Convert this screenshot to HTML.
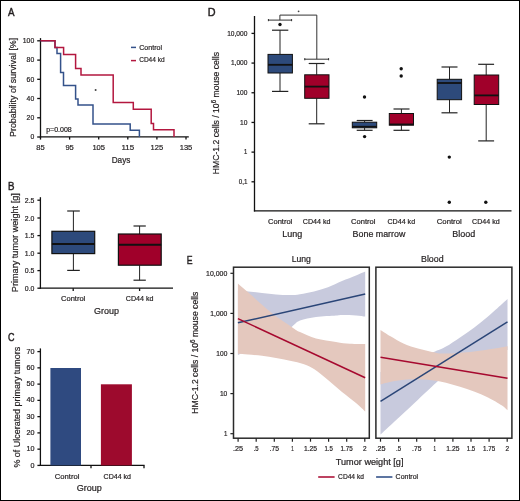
<!DOCTYPE html>
<html><head><meta charset="utf-8"><style>
html,body{margin:0;padding:0;background:#fff;}
svg{display:block;font-family:"Liberation Sans", sans-serif;will-change:transform;}
</style></head><body>
<svg width="520" height="501" viewBox="0 0 520 501">
<rect x="0" y="0" width="520" height="501" fill="#fff"/>
<text x="8.00" y="16.00" font-size="11" textLength="6.50" lengthAdjust="spacingAndGlyphs" fill="#231f20" stroke="#231f20" stroke-width="0.45" >A</text>
<line x1="40.50" y1="38.10" x2="40.50" y2="137.50" stroke="#111111" stroke-width="1.3" />
<line x1="39.90" y1="136.90" x2="188.80" y2="136.90" stroke="#111111" stroke-width="1.3" />
<line x1="37.20" y1="40.80" x2="40.50" y2="40.80" stroke="#111111" stroke-width="1.3" />
<text x="22.80" y="43.10" font-size="7" textLength="11.40" lengthAdjust="spacingAndGlyphs" fill="#231f20" stroke="#231f20" stroke-width="0.2" >100</text>
<line x1="37.20" y1="60.10" x2="40.50" y2="60.10" stroke="#111111" stroke-width="1.3" />
<text x="26.60" y="62.40" font-size="7" textLength="7.60" lengthAdjust="spacingAndGlyphs" fill="#231f20" stroke="#231f20" stroke-width="0.2" >80</text>
<line x1="37.20" y1="79.30" x2="40.50" y2="79.30" stroke="#111111" stroke-width="1.3" />
<text x="26.60" y="81.60" font-size="7" textLength="7.60" lengthAdjust="spacingAndGlyphs" fill="#231f20" stroke="#231f20" stroke-width="0.2" >60</text>
<line x1="37.20" y1="98.50" x2="40.50" y2="98.50" stroke="#111111" stroke-width="1.3" />
<text x="26.60" y="100.80" font-size="7" textLength="7.60" lengthAdjust="spacingAndGlyphs" fill="#231f20" stroke="#231f20" stroke-width="0.2" >40</text>
<line x1="37.20" y1="117.80" x2="40.50" y2="117.80" stroke="#111111" stroke-width="1.3" />
<text x="26.60" y="120.10" font-size="7" textLength="7.60" lengthAdjust="spacingAndGlyphs" fill="#231f20" stroke="#231f20" stroke-width="0.2" >20</text>
<line x1="37.20" y1="137.00" x2="40.50" y2="137.00" stroke="#111111" stroke-width="1.3" />
<text x="30.40" y="139.30" font-size="7" textLength="3.80" lengthAdjust="spacingAndGlyphs" fill="#231f20" stroke="#231f20" stroke-width="0.2" >0</text>
<line x1="40.50" y1="136.90" x2="40.50" y2="139.60" stroke="#111111" stroke-width="1.3" />
<text x="36.30" y="150.00" font-size="7.5" textLength="8.40" lengthAdjust="spacingAndGlyphs" fill="#231f20" stroke="#231f20" stroke-width="0.2" >85</text>
<line x1="69.60" y1="136.90" x2="69.60" y2="139.60" stroke="#111111" stroke-width="1.3" />
<text x="65.40" y="150.00" font-size="7.5" textLength="8.40" lengthAdjust="spacingAndGlyphs" fill="#231f20" stroke="#231f20" stroke-width="0.2" >95</text>
<line x1="98.70" y1="136.90" x2="98.70" y2="139.60" stroke="#111111" stroke-width="1.3" />
<text x="92.40" y="150.00" font-size="7.5" textLength="12.60" lengthAdjust="spacingAndGlyphs" fill="#231f20" stroke="#231f20" stroke-width="0.2" >105</text>
<line x1="127.80" y1="136.90" x2="127.80" y2="139.60" stroke="#111111" stroke-width="1.3" />
<text x="121.50" y="150.00" font-size="7.5" textLength="12.60" lengthAdjust="spacingAndGlyphs" fill="#231f20" stroke="#231f20" stroke-width="0.2" >115</text>
<line x1="156.90" y1="136.90" x2="156.90" y2="139.60" stroke="#111111" stroke-width="1.3" />
<text x="150.60" y="150.00" font-size="7.5" textLength="12.60" lengthAdjust="spacingAndGlyphs" fill="#231f20" stroke="#231f20" stroke-width="0.2" >125</text>
<line x1="186.00" y1="136.90" x2="186.00" y2="139.60" stroke="#111111" stroke-width="1.3" />
<text x="179.70" y="150.00" font-size="7.5" textLength="12.60" lengthAdjust="spacingAndGlyphs" fill="#231f20" stroke="#231f20" stroke-width="0.2" >135</text>
<text x="111.70" y="162.80" font-size="8.8" textLength="18.70" lengthAdjust="spacingAndGlyphs" fill="#231f20" stroke="#231f20" stroke-width="0.2" >Days</text>
<text x="46.20" y="132.00" font-size="6.8" textLength="25.60" lengthAdjust="spacingAndGlyphs" fill="#231f20" stroke="#231f20" stroke-width="0.2" >p=0.008</text>
<text transform="translate(15.75,137.00) rotate(-90)" x="0" y="0" font-size="9.2" textLength="99.25" lengthAdjust="spacingAndGlyphs" fill="#231f20" stroke="#231f20" stroke-width="0.2">Probability of survival [%]</text>
<circle cx="95.60" cy="90.00" r="1.0" fill="#444"/>
<polyline points="40.50,40.80 55.00,40.80 55.00,47.60 57.00,47.60 57.00,53.40 60.60,53.40 60.60,72.60 63.50,72.60 63.50,85.60 75.60,85.60 75.60,99.00 78.00,99.00 78.00,105.00 93.00,105.00 93.00,124.00 130.20,124.00 130.20,130.20 139.40,130.20 139.40,136.90" fill="none" stroke="#34528a" stroke-width="1.5" stroke-linejoin="miter" />
<polyline points="40.50,40.80 55.00,40.80 55.00,47.60 63.60,47.60 63.60,54.40 75.60,54.40 75.60,68.40 81.00,68.40 81.00,75.00 113.20,75.00 113.20,102.60 133.30,102.60 133.30,109.30 151.20,109.30 151.20,123.50 153.50,123.50 153.50,129.80 174.00,129.80 174.00,136.90" fill="none" stroke="#b3173f" stroke-width="1.5" stroke-linejoin="miter" />
<line x1="131.00" y1="47.40" x2="136.00" y2="47.40" stroke="#34528a" stroke-width="1.5" />
<line x1="131.00" y1="60.60" x2="136.00" y2="60.60" stroke="#b3173f" stroke-width="1.5" />
<text x="139.20" y="49.50" font-size="7.6" textLength="22.80" lengthAdjust="spacingAndGlyphs" fill="#231f20" stroke="#231f20" stroke-width="0.2" >Control</text>
<text x="139.20" y="62.00" font-size="7.6" textLength="25.40" lengthAdjust="spacingAndGlyphs" fill="#231f20" stroke="#231f20" stroke-width="0.2" >CD44 kd</text>
<text x="8.00" y="190.00" font-size="11" textLength="6.50" lengthAdjust="spacingAndGlyphs" fill="#231f20" stroke="#231f20" stroke-width="0.45" >B</text>
<line x1="40.40" y1="197.20" x2="40.40" y2="288.80" stroke="#111111" stroke-width="1.3" />
<line x1="39.80" y1="288.20" x2="173.00" y2="288.20" stroke="#111111" stroke-width="1.3" />
<line x1="37.40" y1="200.20" x2="40.40" y2="200.20" stroke="#111111" stroke-width="1.3" />
<text x="24.80" y="202.90" font-size="7" textLength="9.60" lengthAdjust="spacingAndGlyphs" fill="#231f20" stroke="#231f20" stroke-width="0.2" >2.5</text>
<line x1="37.40" y1="218.00" x2="40.40" y2="218.00" stroke="#111111" stroke-width="1.3" />
<text x="24.80" y="220.70" font-size="7" textLength="9.60" lengthAdjust="spacingAndGlyphs" fill="#231f20" stroke="#231f20" stroke-width="0.2" >2.0</text>
<line x1="37.40" y1="235.60" x2="40.40" y2="235.60" stroke="#111111" stroke-width="1.3" />
<text x="24.80" y="238.30" font-size="7" textLength="9.60" lengthAdjust="spacingAndGlyphs" fill="#231f20" stroke="#231f20" stroke-width="0.2" >1.5</text>
<line x1="37.40" y1="253.20" x2="40.40" y2="253.20" stroke="#111111" stroke-width="1.3" />
<text x="24.80" y="255.90" font-size="7" textLength="9.60" lengthAdjust="spacingAndGlyphs" fill="#231f20" stroke="#231f20" stroke-width="0.2" >1.0</text>
<line x1="37.40" y1="270.60" x2="40.40" y2="270.60" stroke="#111111" stroke-width="1.3" />
<text x="24.80" y="273.30" font-size="7" textLength="9.60" lengthAdjust="spacingAndGlyphs" fill="#231f20" stroke="#231f20" stroke-width="0.2" >0.5</text>
<line x1="37.40" y1="288.20" x2="40.40" y2="288.20" stroke="#111111" stroke-width="1.3" />
<text x="24.80" y="290.90" font-size="7" textLength="9.60" lengthAdjust="spacingAndGlyphs" fill="#231f20" stroke="#231f20" stroke-width="0.2" >0.0</text>
<line x1="73.40" y1="211.00" x2="73.40" y2="231.30" stroke="#222" stroke-width="1.0" />
<line x1="73.40" y1="253.60" x2="73.40" y2="270.40" stroke="#222" stroke-width="1.0" />
<line x1="67.20" y1="211.00" x2="79.80" y2="211.00" stroke="#222" stroke-width="1.2" />
<line x1="67.20" y1="270.40" x2="79.80" y2="270.40" stroke="#222" stroke-width="1.2" />
<rect x="51.90" y="231.30" width="42.80" height="22.30" fill="#2d4a7b" stroke="#111" stroke-width="1.2"/>
<line x1="51.90" y1="243.90" x2="94.70" y2="243.90" stroke="#111" stroke-width="2.0" />
<line x1="139.60" y1="226.00" x2="139.60" y2="234.00" stroke="#222" stroke-width="1.0" />
<line x1="139.60" y1="265.20" x2="139.60" y2="280.20" stroke="#222" stroke-width="1.0" />
<line x1="133.50" y1="226.00" x2="145.80" y2="226.00" stroke="#222" stroke-width="1.2" />
<line x1="133.50" y1="280.20" x2="145.80" y2="280.20" stroke="#222" stroke-width="1.2" />
<rect x="118.40" y="234.00" width="42.80" height="31.20" fill="#a0002a" stroke="#111" stroke-width="1.2"/>
<line x1="118.40" y1="244.80" x2="161.20" y2="244.80" stroke="#111" stroke-width="2.0" />
<line x1="73.20" y1="288.20" x2="73.20" y2="291.00" stroke="#111111" stroke-width="1.3" />
<line x1="139.60" y1="288.20" x2="139.60" y2="291.00" stroke="#111111" stroke-width="1.3" />
<text x="61.00" y="300.90" font-size="7.3" textLength="24.30" lengthAdjust="spacingAndGlyphs" fill="#231f20" stroke="#231f20" stroke-width="0.2" >Control</text>
<text x="125.80" y="300.90" font-size="7.3" textLength="27.70" lengthAdjust="spacingAndGlyphs" fill="#231f20" stroke="#231f20" stroke-width="0.2" >CD44 kd</text>
<text x="94.00" y="314.30" font-size="8.5" textLength="24.90" lengthAdjust="spacingAndGlyphs" fill="#231f20" stroke="#231f20" stroke-width="0.2" >Group</text>
<text transform="translate(18.20,292.20) rotate(-90)" x="0" y="0" font-size="8.8" textLength="99.00" lengthAdjust="spacingAndGlyphs" fill="#231f20" stroke="#231f20" stroke-width="0.2">Primary tumor weight [g]</text>
<text x="8.00" y="341.40" font-size="11" textLength="6.50" lengthAdjust="spacingAndGlyphs" fill="#231f20" stroke="#231f20" stroke-width="0.45" >C</text>
<line x1="40.40" y1="348.40" x2="40.40" y2="466.00" stroke="#111111" stroke-width="1.3" />
<line x1="39.80" y1="465.40" x2="144.60" y2="465.40" stroke="#111111" stroke-width="1.3" />
<line x1="37.40" y1="351.60" x2="40.40" y2="351.60" stroke="#111111" stroke-width="1.3" />
<text x="26.40" y="353.70" font-size="7" textLength="8.00" lengthAdjust="spacingAndGlyphs" fill="#231f20" stroke="#231f20" stroke-width="0.2" >70</text>
<line x1="37.40" y1="367.86" x2="40.40" y2="367.86" stroke="#111111" stroke-width="1.3" />
<text x="26.40" y="369.96" font-size="7" textLength="8.00" lengthAdjust="spacingAndGlyphs" fill="#231f20" stroke="#231f20" stroke-width="0.2" >60</text>
<line x1="37.40" y1="384.12" x2="40.40" y2="384.12" stroke="#111111" stroke-width="1.3" />
<text x="26.40" y="386.22" font-size="7" textLength="8.00" lengthAdjust="spacingAndGlyphs" fill="#231f20" stroke="#231f20" stroke-width="0.2" >50</text>
<line x1="37.40" y1="400.38" x2="40.40" y2="400.38" stroke="#111111" stroke-width="1.3" />
<text x="26.40" y="402.48" font-size="7" textLength="8.00" lengthAdjust="spacingAndGlyphs" fill="#231f20" stroke="#231f20" stroke-width="0.2" >40</text>
<line x1="37.40" y1="416.64" x2="40.40" y2="416.64" stroke="#111111" stroke-width="1.3" />
<text x="26.40" y="418.74" font-size="7" textLength="8.00" lengthAdjust="spacingAndGlyphs" fill="#231f20" stroke="#231f20" stroke-width="0.2" >30</text>
<line x1="37.40" y1="432.90" x2="40.40" y2="432.90" stroke="#111111" stroke-width="1.3" />
<text x="26.40" y="435.00" font-size="7" textLength="8.00" lengthAdjust="spacingAndGlyphs" fill="#231f20" stroke="#231f20" stroke-width="0.2" >20</text>
<line x1="37.40" y1="449.16" x2="40.40" y2="449.16" stroke="#111111" stroke-width="1.3" />
<text x="26.40" y="451.26" font-size="7" textLength="8.00" lengthAdjust="spacingAndGlyphs" fill="#231f20" stroke="#231f20" stroke-width="0.2" >10</text>
<line x1="37.40" y1="465.42" x2="40.40" y2="465.42" stroke="#111111" stroke-width="1.3" />
<text x="30.40" y="467.52" font-size="7" textLength="4.00" lengthAdjust="spacingAndGlyphs" fill="#231f20" stroke="#231f20" stroke-width="0.2" >0</text>
<rect x="50.40" y="368.00" width="30.60" height="97.40" fill="#2f4a80" stroke="none" stroke-width="0"/>
<rect x="100.90" y="384.30" width="31.00" height="81.10" fill="#9d0a2d" stroke="none" stroke-width="0"/>
<line x1="91.00" y1="465.40" x2="91.00" y2="468.20" stroke="#111111" stroke-width="1.3" />
<line x1="144.00" y1="465.40" x2="144.00" y2="468.20" stroke="#111111" stroke-width="1.3" />
<text x="54.80" y="478.80" font-size="7.3" textLength="24.60" lengthAdjust="spacingAndGlyphs" fill="#231f20" stroke="#231f20" stroke-width="0.2" >Control</text>
<text x="103.60" y="478.80" font-size="7.3" textLength="27.40" lengthAdjust="spacingAndGlyphs" fill="#231f20" stroke="#231f20" stroke-width="0.2" >CD44 kd</text>
<text x="76.80" y="491.40" font-size="8.5" textLength="25.10" lengthAdjust="spacingAndGlyphs" fill="#231f20" stroke="#231f20" stroke-width="0.2" >Group</text>
<text transform="translate(20.40,467.60) rotate(-90)" x="0" y="0" font-size="9.0" textLength="120.80" lengthAdjust="spacingAndGlyphs" fill="#231f20" stroke="#231f20" stroke-width="0.2">% of Ulcerated primary tumors</text>
<text x="207.70" y="16.00" font-size="11" textLength="7.80" lengthAdjust="spacingAndGlyphs" fill="#231f20" stroke="#231f20" stroke-width="0.45" >D</text>
<line x1="254.50" y1="16.00" x2="254.50" y2="211.50" stroke="#111111" stroke-width="1.3" />
<line x1="253.90" y1="210.90" x2="511.50" y2="210.90" stroke="#111111" stroke-width="1.3" />
<line x1="251.50" y1="33.40" x2="254.50" y2="33.40" stroke="#111111" stroke-width="1.3" />
<text x="227.20" y="35.70" font-size="7" textLength="20.20" lengthAdjust="spacingAndGlyphs" fill="#231f20" stroke="#231f20" stroke-width="0.2" >10,000</text>
<line x1="251.50" y1="63.08" x2="254.50" y2="63.08" stroke="#111111" stroke-width="1.3" />
<text x="230.90" y="65.38" font-size="7" textLength="16.50" lengthAdjust="spacingAndGlyphs" fill="#231f20" stroke="#231f20" stroke-width="0.2" >1,000</text>
<line x1="251.50" y1="92.76" x2="254.50" y2="92.76" stroke="#111111" stroke-width="1.3" />
<text x="236.40" y="95.06" font-size="7" textLength="11.00" lengthAdjust="spacingAndGlyphs" fill="#231f20" stroke="#231f20" stroke-width="0.2" >100</text>
<line x1="251.50" y1="122.44" x2="254.50" y2="122.44" stroke="#111111" stroke-width="1.3" />
<text x="240.00" y="124.74" font-size="7" textLength="7.40" lengthAdjust="spacingAndGlyphs" fill="#231f20" stroke="#231f20" stroke-width="0.2" >10</text>
<line x1="251.50" y1="152.12" x2="254.50" y2="152.12" stroke="#111111" stroke-width="1.3" />
<text x="244.10" y="154.42" font-size="7" textLength="3.30" lengthAdjust="spacingAndGlyphs" fill="#231f20" stroke="#231f20" stroke-width="0.2" >1</text>
<line x1="251.50" y1="181.80" x2="254.50" y2="181.80" stroke="#111111" stroke-width="1.3" />
<text x="238.80" y="184.10" font-size="7" textLength="8.60" lengthAdjust="spacingAndGlyphs" fill="#231f20" stroke="#231f20" stroke-width="0.2" >0,1</text>
<text transform="translate(219.00,174.20) rotate(-90)" x="0" y="0" font-size="9.0" textLength="122.20" lengthAdjust="spacingAndGlyphs" fill="#231f20" stroke="#231f20" stroke-width="0.2">HMC-1.2 cells / 10<tspan dy="-3.2" font-size="6.5">6</tspan><tspan dy="3.2"> mouse cells</tspan></text>
<line x1="280.00" y1="30.20" x2="280.00" y2="54.40" stroke="#222" stroke-width="1.0" />
<line x1="280.00" y1="73.00" x2="280.00" y2="91.40" stroke="#222" stroke-width="1.0" />
<line x1="272.00" y1="30.20" x2="288.30" y2="30.20" stroke="#222" stroke-width="1.2" />
<line x1="272.00" y1="91.40" x2="288.30" y2="91.40" stroke="#222" stroke-width="1.2" />
<rect x="268.00" y="54.40" width="24.40" height="18.60" fill="#2d4a7b" stroke="#111" stroke-width="1.0"/>
<line x1="268.00" y1="64.80" x2="292.40" y2="64.80" stroke="#111" stroke-width="1.8" />
<circle cx="280.00" cy="24.50" r="1.7" fill="#111"/>
<line x1="316.70" y1="63.50" x2="316.70" y2="74.80" stroke="#222" stroke-width="1.0" />
<line x1="316.70" y1="98.30" x2="316.70" y2="123.80" stroke="#222" stroke-width="1.0" />
<line x1="308.70" y1="63.50" x2="324.60" y2="63.50" stroke="#222" stroke-width="1.2" />
<line x1="308.70" y1="123.80" x2="324.60" y2="123.80" stroke="#222" stroke-width="1.2" />
<rect x="304.70" y="74.80" width="24.30" height="23.50" fill="#a0002a" stroke="#111" stroke-width="1.0"/>
<line x1="304.70" y1="86.60" x2="329.00" y2="86.60" stroke="#111" stroke-width="1.8" />
<line x1="279.90" y1="15.10" x2="316.80" y2="15.10" stroke="#333" stroke-width="1.0" />
<line x1="279.90" y1="15.10" x2="279.90" y2="20.10" stroke="#333" stroke-width="1.0" />
<line x1="316.80" y1="15.10" x2="316.80" y2="59.20" stroke="#333" stroke-width="1.0" />
<line x1="268.00" y1="20.10" x2="292.00" y2="20.10" stroke="#333" stroke-width="1.0" />
<line x1="268.40" y1="19.00" x2="268.40" y2="21.20" stroke="#333" stroke-width="1.0" />
<line x1="291.60" y1="19.00" x2="291.60" y2="21.20" stroke="#333" stroke-width="1.0" />
<line x1="304.40" y1="59.20" x2="329.00" y2="59.20" stroke="#333" stroke-width="1.0" />
<line x1="304.80" y1="58.10" x2="304.80" y2="60.30" stroke="#333" stroke-width="1.0" />
<line x1="328.60" y1="58.10" x2="328.60" y2="60.30" stroke="#333" stroke-width="1.0" />
<circle cx="298.60" cy="11.30" r="0.9" fill="#444"/>
<line x1="364.60" y1="120.50" x2="364.60" y2="122.20" stroke="#222" stroke-width="1.0" />
<line x1="364.60" y1="127.80" x2="364.60" y2="130.30" stroke="#222" stroke-width="1.0" />
<line x1="356.70" y1="120.50" x2="372.60" y2="120.50" stroke="#222" stroke-width="1.2" />
<line x1="356.70" y1="130.30" x2="372.60" y2="130.30" stroke="#222" stroke-width="1.2" />
<rect x="352.30" y="122.20" width="24.40" height="5.60" fill="#2d4a7b" stroke="#111" stroke-width="1.0"/>
<line x1="352.30" y1="126.60" x2="376.70" y2="126.60" stroke="#111" stroke-width="1.5" />
<circle cx="364.50" cy="97.00" r="1.7" fill="#111"/>
<circle cx="364.60" cy="136.60" r="1.7" fill="#111"/>
<line x1="401.40" y1="109.00" x2="401.40" y2="113.50" stroke="#222" stroke-width="1.0" />
<line x1="401.40" y1="125.20" x2="401.40" y2="130.30" stroke="#222" stroke-width="1.0" />
<line x1="393.50" y1="109.00" x2="409.50" y2="109.00" stroke="#222" stroke-width="1.2" />
<line x1="393.50" y1="130.30" x2="409.50" y2="130.30" stroke="#222" stroke-width="1.2" />
<rect x="389.30" y="113.50" width="24.20" height="11.70" fill="#a0002a" stroke="#111" stroke-width="1.0"/>
<line x1="389.30" y1="124.30" x2="413.50" y2="124.30" stroke="#111" stroke-width="1.5" />
<circle cx="401.20" cy="68.80" r="1.7" fill="#111"/>
<circle cx="401.20" cy="76.00" r="1.7" fill="#111"/>
<line x1="449.50" y1="67.00" x2="449.50" y2="79.30" stroke="#222" stroke-width="1.0" />
<line x1="449.50" y1="99.70" x2="449.50" y2="112.80" stroke="#222" stroke-width="1.0" />
<line x1="441.50" y1="67.00" x2="457.50" y2="67.00" stroke="#222" stroke-width="1.2" />
<line x1="441.50" y1="112.80" x2="457.50" y2="112.80" stroke="#222" stroke-width="1.2" />
<rect x="437.20" y="79.30" width="24.40" height="20.40" fill="#2d4a7b" stroke="#111" stroke-width="1.0"/>
<line x1="437.20" y1="83.00" x2="461.60" y2="83.00" stroke="#111" stroke-width="1.8" />
<circle cx="449.30" cy="157.10" r="1.7" fill="#111"/>
<circle cx="449.30" cy="202.30" r="1.7" fill="#111"/>
<line x1="486.20" y1="64.30" x2="486.20" y2="75.00" stroke="#222" stroke-width="1.0" />
<line x1="486.20" y1="104.50" x2="486.20" y2="140.90" stroke="#222" stroke-width="1.0" />
<line x1="478.20" y1="64.30" x2="494.10" y2="64.30" stroke="#222" stroke-width="1.2" />
<line x1="478.20" y1="140.90" x2="494.10" y2="140.90" stroke="#222" stroke-width="1.2" />
<rect x="474.20" y="75.00" width="24.50" height="29.50" fill="#a0002a" stroke="#111" stroke-width="1.0"/>
<line x1="474.20" y1="95.40" x2="498.70" y2="95.40" stroke="#111" stroke-width="1.8" />
<circle cx="485.80" cy="202.30" r="1.7" fill="#111"/>
<text x="268.00" y="223.80" font-size="7.3" textLength="24.30" lengthAdjust="spacingAndGlyphs" fill="#231f20" stroke="#231f20" stroke-width="0.2" >Control</text>
<text x="302.80" y="223.80" font-size="7.3" textLength="27.70" lengthAdjust="spacingAndGlyphs" fill="#231f20" stroke="#231f20" stroke-width="0.2" >CD44 kd</text>
<text x="351.10" y="223.80" font-size="7.3" textLength="24.30" lengthAdjust="spacingAndGlyphs" fill="#231f20" stroke="#231f20" stroke-width="0.2" >Control</text>
<text x="387.40" y="223.80" font-size="7.3" textLength="27.70" lengthAdjust="spacingAndGlyphs" fill="#231f20" stroke="#231f20" stroke-width="0.2" >CD44 kd</text>
<text x="436.80" y="223.80" font-size="7.3" textLength="24.90" lengthAdjust="spacingAndGlyphs" fill="#231f20" stroke="#231f20" stroke-width="0.2" >Control</text>
<text x="472.10" y="223.80" font-size="7.3" textLength="27.60" lengthAdjust="spacingAndGlyphs" fill="#231f20" stroke="#231f20" stroke-width="0.2" >CD44 kd</text>
<text x="282.30" y="237.20" font-size="8.5" textLength="20.00" lengthAdjust="spacingAndGlyphs" fill="#231f20" stroke="#231f20" stroke-width="0.2" >Lung</text>
<text x="352.60" y="237.20" font-size="8.5" textLength="52.80" lengthAdjust="spacingAndGlyphs" fill="#231f20" stroke="#231f20" stroke-width="0.2" >Bone marrow</text>
<text x="452.30" y="237.20" font-size="8.5" textLength="22.90" lengthAdjust="spacingAndGlyphs" fill="#231f20" stroke="#231f20" stroke-width="0.2" >Blood</text>
<text x="186.80" y="264.00" font-size="11" textLength="5.80" lengthAdjust="spacingAndGlyphs" fill="#231f20" stroke="#231f20" stroke-width="0.45" >E</text>
<text transform="translate(197.80,413.70) rotate(-90)" x="0" y="0" font-size="9.0" textLength="122.00" lengthAdjust="spacingAndGlyphs" fill="#231f20" stroke="#231f20" stroke-width="0.2">HMC-1.2 cells / 10<tspan dy="-3.2" font-size="6.5">6</tspan><tspan dy="3.2"> mouse cells</tspan></text>
<path d="M237.90,290.40 C239.35,290.53 242.58,290.77 246.60,291.20 C250.62,291.63 257.10,292.45 262.00,293.00 C266.90,293.55 271.33,294.15 276.00,294.50 C280.67,294.85 286.00,295.15 290.00,295.10 C294.00,295.05 296.00,294.82 300.00,294.20 C304.00,293.58 309.33,292.57 314.00,291.40 C318.67,290.23 323.33,288.93 328.00,287.20 C332.67,285.47 337.33,282.97 342.00,281.00 C346.67,279.03 352.13,276.98 356.00,275.40 C359.87,273.82 363.67,272.15 365.20,271.50 L365.20,316.60 C363.67,316.42 359.87,315.77 356.00,315.50 C352.13,315.23 345.33,314.98 342.00,315.00 C338.67,315.02 340.33,315.25 336.00,315.60 C331.67,315.95 322.00,316.27 316.00,317.10 C310.00,317.93 304.07,318.97 300.00,320.60 C295.93,322.23 294.93,324.67 291.60,326.90 C288.27,329.13 284.93,331.32 280.00,334.00 C275.07,336.68 267.33,340.33 262.00,343.00 C256.67,345.67 252.02,348.00 248.00,350.00 C243.98,352.00 239.58,354.17 237.90,355.00 Z" fill="#c8cadd"/>
<path d="M237.90,283.60 C240.75,286.07 249.32,293.47 255.00,298.40 C260.68,303.33 267.83,309.77 272.00,313.20 C276.17,316.63 276.73,316.72 280.00,319.00 C283.27,321.28 288.27,324.72 291.60,326.90 C294.93,329.08 295.93,330.18 300.00,332.10 C304.07,334.02 310.00,336.77 316.00,338.40 C322.00,340.03 330.33,341.00 336.00,341.90 C341.67,342.80 345.13,343.45 350.00,343.80 C354.87,344.15 362.67,343.97 365.20,344.00 L365.20,411.60 C363.67,410.17 359.87,406.27 356.00,403.00 C352.13,399.73 346.67,395.83 342.00,392.00 C337.33,388.17 332.67,383.83 328.00,380.00 C323.33,376.17 318.00,371.63 314.00,369.00 C310.00,366.37 308.00,365.58 304.00,364.20 C300.00,362.82 294.67,361.73 290.00,360.70 C285.33,359.67 280.67,358.82 276.00,358.00 C271.33,357.18 266.67,356.38 262.00,355.80 C257.33,355.22 252.02,354.83 248.00,354.50 C243.98,354.17 239.58,353.92 237.90,353.80 Z" fill="#e4c8be"/>
<line x1="237.90" y1="322.80" x2="365.20" y2="294.00" stroke="#2a4577" stroke-width="1.5" />
<line x1="237.90" y1="318.60" x2="365.20" y2="377.80" stroke="#a6092f" stroke-width="1.5" />
<path d="M380.50,372.00 C385.42,370.17 400.92,364.42 410.00,361.00 C419.08,357.58 429.00,353.90 435.00,351.50 C441.00,349.10 441.83,348.93 446.00,346.60 C450.17,344.27 455.33,340.65 460.00,337.50 C464.67,334.35 469.33,331.20 474.00,327.70 C478.67,324.20 483.33,320.45 488.00,316.50 C492.67,312.55 498.75,306.90 502.00,304.00 C505.25,301.10 506.58,299.92 507.50,299.10 L507.50,350.00 C501.25,351.67 480.25,355.92 470.00,360.00 C459.75,364.08 451.33,371.00 446.00,374.50 C440.67,378.00 442.67,376.80 438.00,381.00 C433.33,385.20 424.33,393.78 418.00,399.70 C411.67,405.62 406.25,410.68 400.00,416.50 C393.75,422.32 383.75,431.58 380.50,434.60 Z" fill="#c8cadd"/>
<path d="M380.50,330.10 C382.08,331.10 386.08,333.82 390.00,336.10 C393.92,338.38 399.33,341.72 404.00,343.80 C408.67,345.88 413.33,347.25 418.00,348.60 C422.67,349.95 427.33,351.07 432.00,351.90 C436.67,352.73 439.00,353.67 446.00,353.60 C453.00,353.53 464.67,352.55 474.00,351.50 C483.33,350.45 496.42,348.18 502.00,347.30 C507.58,346.42 506.58,346.38 507.50,346.20 L507.50,410.30 C506.58,409.50 505.25,407.63 502.00,405.50 C498.75,403.37 492.67,399.85 488.00,397.50 C483.33,395.15 478.67,393.18 474.00,391.40 C469.33,389.62 464.67,388.23 460.00,386.80 C455.33,385.37 450.67,383.90 446.00,382.80 C441.33,381.70 436.67,380.78 432.00,380.20 C427.33,379.62 422.67,379.37 418.00,379.30 C413.33,379.23 408.67,379.35 404.00,379.80 C399.33,380.25 393.92,381.23 390.00,382.00 C386.08,382.77 382.08,384.00 380.50,384.40 Z" fill="#e4c8be"/>
<line x1="380.50" y1="401.40" x2="507.50" y2="321.80" stroke="#2a4577" stroke-width="1.5" />
<line x1="380.50" y1="357.30" x2="507.50" y2="378.30" stroke="#a6092f" stroke-width="1.5" />
<rect x="233.5" y="267.2" width="135.8" height="171" fill="none" stroke="#2a2a2a" stroke-width="1.5"/>
<rect x="375.9" y="267.2" width="136" height="171" fill="none" stroke="#2a2a2a" stroke-width="1.5"/>
<line x1="230.40" y1="273.30" x2="233.50" y2="273.30" stroke="#222" stroke-width="1.2" />
<text x="206.10" y="275.60" font-size="7" textLength="21.20" lengthAdjust="spacingAndGlyphs" fill="#231f20" stroke="#231f20" stroke-width="0.2" >10,000</text>
<line x1="230.40" y1="313.40" x2="233.50" y2="313.40" stroke="#222" stroke-width="1.2" />
<text x="210.30" y="315.70" font-size="7" textLength="17.00" lengthAdjust="spacingAndGlyphs" fill="#231f20" stroke="#231f20" stroke-width="0.2" >1,000</text>
<line x1="230.40" y1="353.50" x2="233.50" y2="353.50" stroke="#222" stroke-width="1.2" />
<text x="216.30" y="355.80" font-size="7" textLength="11.00" lengthAdjust="spacingAndGlyphs" fill="#231f20" stroke="#231f20" stroke-width="0.2" >100</text>
<line x1="230.40" y1="393.60" x2="233.50" y2="393.60" stroke="#222" stroke-width="1.2" />
<text x="219.90" y="395.90" font-size="7" textLength="7.40" lengthAdjust="spacingAndGlyphs" fill="#231f20" stroke="#231f20" stroke-width="0.2" >10</text>
<line x1="230.40" y1="433.70" x2="233.50" y2="433.70" stroke="#222" stroke-width="1.2" />
<text x="223.90" y="436.00" font-size="7" textLength="3.40" lengthAdjust="spacingAndGlyphs" fill="#231f20" stroke="#231f20" stroke-width="0.2" >1</text>
<line x1="238.10" y1="438.20" x2="238.10" y2="441.70" stroke="#222" stroke-width="1.2" />
<text x="233.05" y="451.20" font-size="7" textLength="10.10" lengthAdjust="spacingAndGlyphs" fill="#231f20" stroke="#231f20" stroke-width="0.2" >.25</text>
<line x1="256.20" y1="438.20" x2="256.20" y2="441.70" stroke="#222" stroke-width="1.2" />
<text x="253.70" y="451.20" font-size="7" textLength="5.00" lengthAdjust="spacingAndGlyphs" fill="#231f20" stroke="#231f20" stroke-width="0.2" >.5</text>
<line x1="274.30" y1="438.20" x2="274.30" y2="441.70" stroke="#222" stroke-width="1.2" />
<text x="269.60" y="451.20" font-size="7" textLength="9.40" lengthAdjust="spacingAndGlyphs" fill="#231f20" stroke="#231f20" stroke-width="0.2" >.75</text>
<line x1="292.40" y1="438.20" x2="292.40" y2="441.70" stroke="#222" stroke-width="1.2" />
<text x="291.15" y="451.20" font-size="7" textLength="2.50" lengthAdjust="spacingAndGlyphs" fill="#231f20" stroke="#231f20" stroke-width="0.2" >1</text>
<line x1="310.50" y1="438.20" x2="310.50" y2="441.70" stroke="#222" stroke-width="1.2" />
<text x="303.95" y="451.20" font-size="7" textLength="13.10" lengthAdjust="spacingAndGlyphs" fill="#231f20" stroke="#231f20" stroke-width="0.2" >1.25</text>
<line x1="328.60" y1="438.20" x2="328.60" y2="441.70" stroke="#222" stroke-width="1.2" />
<text x="324.40" y="451.20" font-size="7" textLength="8.40" lengthAdjust="spacingAndGlyphs" fill="#231f20" stroke="#231f20" stroke-width="0.2" >1.5</text>
<line x1="346.70" y1="438.20" x2="346.70" y2="441.70" stroke="#222" stroke-width="1.2" />
<text x="340.60" y="451.20" font-size="7" textLength="12.20" lengthAdjust="spacingAndGlyphs" fill="#231f20" stroke="#231f20" stroke-width="0.2" >1.75</text>
<line x1="364.80" y1="438.20" x2="364.80" y2="441.70" stroke="#222" stroke-width="1.2" />
<text x="363.00" y="451.20" font-size="7" textLength="3.60" lengthAdjust="spacingAndGlyphs" fill="#231f20" stroke="#231f20" stroke-width="0.2" >2</text>
<line x1="380.50" y1="438.20" x2="380.50" y2="441.70" stroke="#222" stroke-width="1.2" />
<text x="375.45" y="451.20" font-size="7" textLength="10.10" lengthAdjust="spacingAndGlyphs" fill="#231f20" stroke="#231f20" stroke-width="0.2" >.25</text>
<line x1="398.60" y1="438.20" x2="398.60" y2="441.70" stroke="#222" stroke-width="1.2" />
<text x="396.10" y="451.20" font-size="7" textLength="5.00" lengthAdjust="spacingAndGlyphs" fill="#231f20" stroke="#231f20" stroke-width="0.2" >.5</text>
<line x1="416.70" y1="438.20" x2="416.70" y2="441.70" stroke="#222" stroke-width="1.2" />
<text x="412.00" y="451.20" font-size="7" textLength="9.40" lengthAdjust="spacingAndGlyphs" fill="#231f20" stroke="#231f20" stroke-width="0.2" >.75</text>
<line x1="434.80" y1="438.20" x2="434.80" y2="441.70" stroke="#222" stroke-width="1.2" />
<text x="433.55" y="451.20" font-size="7" textLength="2.50" lengthAdjust="spacingAndGlyphs" fill="#231f20" stroke="#231f20" stroke-width="0.2" >1</text>
<line x1="452.90" y1="438.20" x2="452.90" y2="441.70" stroke="#222" stroke-width="1.2" />
<text x="446.35" y="451.20" font-size="7" textLength="13.10" lengthAdjust="spacingAndGlyphs" fill="#231f20" stroke="#231f20" stroke-width="0.2" >1.25</text>
<line x1="471.00" y1="438.20" x2="471.00" y2="441.70" stroke="#222" stroke-width="1.2" />
<text x="466.80" y="451.20" font-size="7" textLength="8.40" lengthAdjust="spacingAndGlyphs" fill="#231f20" stroke="#231f20" stroke-width="0.2" >1.5</text>
<line x1="489.10" y1="438.20" x2="489.10" y2="441.70" stroke="#222" stroke-width="1.2" />
<text x="483.00" y="451.20" font-size="7" textLength="12.20" lengthAdjust="spacingAndGlyphs" fill="#231f20" stroke="#231f20" stroke-width="0.2" >1.75</text>
<line x1="507.20" y1="438.20" x2="507.20" y2="441.70" stroke="#222" stroke-width="1.2" />
<text x="505.40" y="451.20" font-size="7" textLength="3.60" lengthAdjust="spacingAndGlyphs" fill="#231f20" stroke="#231f20" stroke-width="0.2" >2</text>
<text x="291.70" y="262.00" font-size="8.5" textLength="19.20" lengthAdjust="spacingAndGlyphs" fill="#231f20" stroke="#231f20" stroke-width="0.2" >Lung</text>
<text x="421.00" y="262.00" font-size="8.5" textLength="22.60" lengthAdjust="spacingAndGlyphs" fill="#231f20" stroke="#231f20" stroke-width="0.2" >Blood</text>
<text x="335.80" y="464.60" font-size="8.5" textLength="67.70" lengthAdjust="spacingAndGlyphs" fill="#231f20" stroke="#231f20" stroke-width="0.2" >Tumor weight [g]</text>
<line x1="318.20" y1="477.00" x2="334.60" y2="477.00" stroke="#ad1439" stroke-width="1.6" />
<text x="338.10" y="478.90" font-size="7.3" textLength="25.80" lengthAdjust="spacingAndGlyphs" fill="#231f20" stroke="#231f20" stroke-width="0.2" >CD44 kd</text>
<line x1="376.10" y1="477.00" x2="392.40" y2="477.00" stroke="#34528a" stroke-width="1.6" />
<text x="395.60" y="478.90" font-size="7.3" textLength="22.50" lengthAdjust="spacingAndGlyphs" fill="#231f20" stroke="#231f20" stroke-width="0.2" >Control</text>
<rect x="0.5" y="0.5" width="519" height="500" fill="none" stroke="#000" stroke-width="1"/>
</svg>
</body></html>
